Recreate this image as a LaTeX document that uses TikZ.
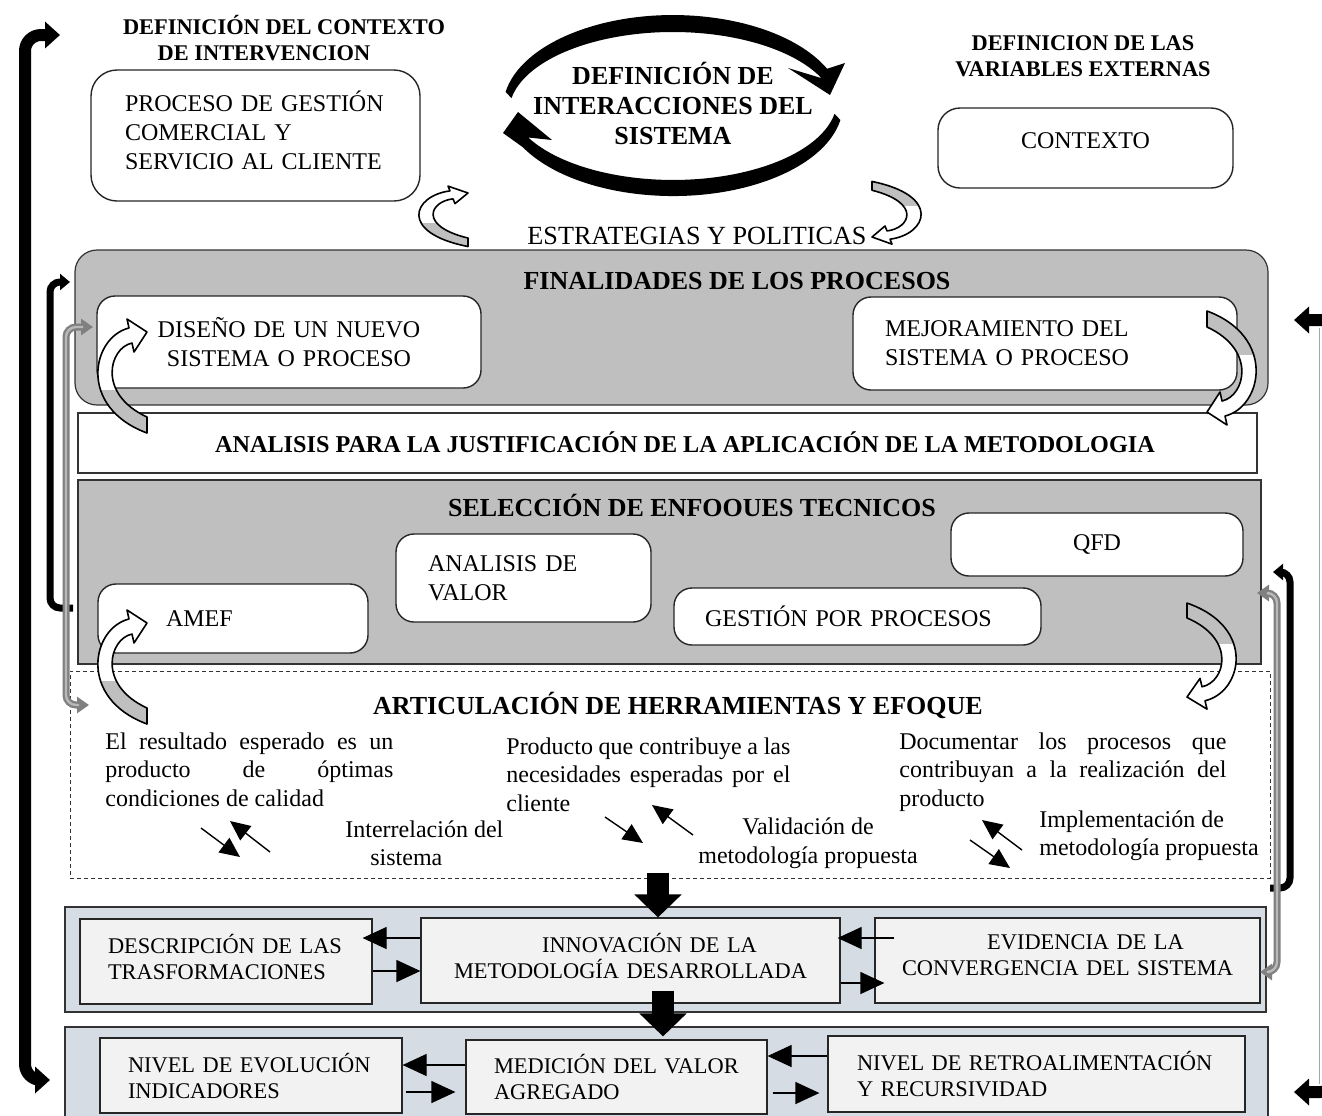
\documentclass[tikz,border=0pt]{standalone}
\usepackage{fontspec}
\setmainfont{Liberation Serif}
\usetikzlibrary{arrows.meta,calc}

\definecolor{panelgray}{RGB}{191,191,191}
\definecolor{bluegray}{RGB}{214,220,228}
\definecolor{lightbox}{RGB}{242,242,242}
\definecolor{linkgray}{RGB}{128,128,128}
\definecolor{linkgraylt}{RGB}{185,185,185}

% font sizes
\newcommand\ftxt{\fontsize{12}{14.5}\selectfont}
\newcommand\fpara{\fontsize{12}{14.25}\selectfont}
\newcommand\fsm{\fontsize{11.2}{13}\selectfont}
\newcommand\fhead{\fontsize{11.2}{13}\selectfont\bfseries}
\newcommand\ftitle{\fontsize{13}{15}\selectfont\bfseries}
\newcommand\fanal{\fontsize{12.1}{14}\selectfont\bfseries}

% box from pixel corners: name, style, x1, y1, x2, y2, text width (px), text
\newcommand\pxbox[8]{%
  \pgfmathsetmacro\pxw{(#5-#3)/2}%
  \pgfmathsetmacro\pxh{(#6-#4)/2}%
  \pgfmathsetmacro\pxt{#7/2}%
  \pgfmathsetmacro\pxcx{(#3+#5)/2}%
  \pgfmathsetmacro\pxcy{(#4+#6)/2}%
  \node[#2, minimum width=\pxw pt, minimum height=\pxh pt, text width=\pxt pt, inner xsep=0pt] (#1) at (\pxcx,\pxcy) {#8};}

\tikzset{
  rbox/.style={draw=black!85, line width=0.7pt, fill=white, rounded corners=9pt, align=left},
  panel/.style={draw=black!80, line width=0.6pt},
  lowbox/.style={draw=black!85, line width=0.6pt, fill=lightbox, align=left, font=\fsm},
  smallarr/.style={line width=0.6pt, -{Triangle[length=12pt,width=11pt]}},
  diagarr/.style={line width=0.7pt, -{Triangle[length=10pt,width=9pt]}},
  bigdown/.style={line width=11pt, -{Triangle[length=11.5pt,width=23pt]}},
  bigbr/.style={line width=6pt, rounded corners=8pt, {Triangle[length=7.5pt,width=13pt]}-{Triangle[length=7.5pt,width=13pt]}},
  midbr/.style={line width=3.5pt, rounded corners=5pt, -{Triangle[length=5pt,width=8pt]}},
  grayout/.style={draw=linkgray, line width=3.5pt, rounded corners=5pt, {Triangle[length=6pt,width=8pt]}-{Triangle[length=6pt,width=8pt]}},
  grayin/.style={draw=linkgraylt, line width=1.2pt, rounded corners=5pt, shorten <=5pt, shorten >=5pt},
  % curved ribbon arrow: tip at the origin, tail straight below, bulging to the left
  curvy/.pic={
    \path[fill=white] (0,0) -- (-20,-13) -- (-18,-4) .. controls (-55,5) and (-70,75) .. (0,101)
      -- (0,85) .. controls (-50,62) and (-38,16) .. (-15,11) -- (-13,20) -- cycle;
    \begin{scope}
      \clip (-90,58) rectangle (20,120);
      \path[fill=panelgray] (0,0) -- (-20,-13) -- (-18,-4) .. controls (-55,5) and (-70,75) .. (0,101)
        -- (0,85) .. controls (-50,62) and (-38,16) .. (-15,11) -- (-13,20) -- cycle;
    \end{scope}
    \draw[line width=0.8pt, line join=round] (0,0) -- (-20,-13) -- (-18,-4) .. controls (-55,5) and (-70,75) .. (0,101)
      -- (0,85) .. controls (-50,62) and (-38,16) .. (-15,11) -- (-13,20) -- cycle;
  }
}

\begin{document}
\begin{tikzpicture}[x=0.5pt, y=-0.5pt]
\useasboundingbox (0,0) rectangle (1322,1115);
\clip (0,0) rectangle (1322,1115);
\fill[white] (0,0) rectangle (1322,1115);

% ---------- top row ----------
\node[font=\fhead, align=center] (hdrL) at (284,38) {DEFINICIÓN DEL CONTEXTO\\DE INTERVENCION\hbox to 20pt{}};
\node[font=\fhead, align=center] (hdrR) at (1083,56) {DEFINICION DE LAS\\VARIABLES EXTERNAS};

\pxbox{proc}{rbox, rounded corners=13pt, font=\ftxt}{91}{70}{420}{201}{261}{PROCESO DE GESTIÓN\\COMERCIAL Y\\SERVICIO AL CLIENTE\par\kern5pt}
\pxbox{ctx}{rbox, rounded corners=11pt, font=\ftxt, align=center}{938}{108}{1233}{188}{280}{CONTEXTO\par\kern7pt}

% circular interaction arrows
\fill (505.6,91.9) arc[start angle=190, end angle=335, x radius=170, y radius=93]
  -- (845,63) -- (830,95) -- (788,68) -- (821.6,78.2)
  arc[start angle=335, end angle=190, x radius=164, y radius=80] -- cycle;
\fill (840.4,120) arc[start angle=10, end angle=152, x radius=170, y radius=92]
  -- (503,133) -- (518,112) -- (552,140) -- (528.2,137.5)
  arc[start angle=152, end angle=10, x radius=164, y radius=80] -- cycle;
\node[font=\ftitle, align=center] (inter) at (673,103) {DEFINICIÓN DE\\INTERACCIONES DEL\\SISTEMA};

\node[font=\fontsize{13.1}{15}\selectfont] (strat) at (697,236) {ESTRATEGIAS Y POLITICAS};

% ---------- finalidades ----------
\pxbox{fin}{panel, fill=panelgray, rounded corners=11pt}{75}{250}{1268}{405}{100}{}
\node[font=\ftitle] (finT) at (737,281) {FINALIDADES DE LOS PROCESOS};
\pxbox{dis}{rbox, font=\ftxt, align=center}{97}{296}{481}{388}{300}{DISEÑO DE UN NUEVO\\SISTEMA O PROCESO}
\pxbox{mej}{rbox, font=\ftxt}{853}{297}{1237}{390}{320}{MEJORAMIENTO DEL\\SISTEMA O PROCESO}

% ---------- analisis ----------
\pxbox{anal}{panel, fill=white}{78}{413}{1257}{473}{100}{}
\node[font=\fanal] (analT) at (685,442) {ANALISIS PARA LA JUSTIFICACIÓN DE LA APLICACIÓN DE LA METODOLOGIA};

% ---------- seleccion de enfoques ----------
\pxbox{sel}{panel, fill=panelgray}{78}{480}{1261}{664}{100}{}
\node[font=\ftitle] (selT) at (692,505) {SELECCIÓN DE ENFOOUES TECNICOS};
\pxbox{amef}{rbox, font=\ftxt}{98}{584}{368}{653}{134}{AMEF}
\pxbox{aval}{rbox, font=\ftxt}{396}{534}{651}{622}{191}{\makebox[95.5pt][s]{ANALISIS DE}\\VALOR}
\pxbox{gest}{rbox, font=\ftxt}{674}{588}{1041}{645}{305}{GESTIÓN POR PROCESOS}
\pxbox{qfd}{rbox, font=\ftxt, align=center}{951}{513}{1243}{576}{200}{QFD}

% ---------- articulacion ----------
\pxbox{art}{draw=black!80, line width=0.5pt, dash pattern=on 2pt off 1.5pt}{70}{671}{1270}{878}{100}{}
\node[font=\ftitle] (artT) at (678,705) {ARTICULACIÓN DE HERRAMIENTAS Y EFOQUE};
\node[font=\fpara, anchor=north west, inner sep=0pt, align=left] (t1) at (105,732)
  {\makebox[144pt][s]{El resultado esperado es un}\\\makebox[144pt][s]{producto de óptimas}\\condiciones de calidad};
\node[font=\fpara, anchor=north west, inner sep=0pt, align=left] (t2) at (506,737)
  {\makebox[142pt][s]{Producto que contribuye a las}\\\makebox[142pt][s]{necesidades esperadas por el}\\cliente};
\node[font=\fpara, anchor=north west, inner sep=0pt, align=left] (t3) at (899,732)
  {\makebox[163.5pt][s]{Documentar los procesos que}\\\makebox[163.5pt][s]{contribuyan a la realización del}\\producto};
\node[font=\fpara, anchor=north west, inner sep=0pt, align=left] (t4) at (345,820)
  {Interrelación del\\\hspace*{12.5pt}sistema};
\node[font=\fpara, align=center, inner sep=0pt] (t5) at (808,843)
  {Validación de\\metodología propuesta};
\node[font=\fontsize{12}{14}\selectfont, anchor=north west, inner sep=0pt, align=left] (t6) at (1039,810)
  {Implementación de\\metodología propuesta};

% small paired arrows
\coordinate (pa1) at (201,828); \coordinate (pa2) at (240,857);
\coordinate (pb1) at (270,852); \coordinate (pb2) at (230,821);
\coordinate (pc1) at (605,817); \coordinate (pc2) at (643,843);
\coordinate (pd1) at (693,835); \coordinate (pd2) at (652,805);
\coordinate (pe1) at (1022,850); \coordinate (pe2) at (982,820);
\coordinate (pf1) at (970,840); \coordinate (pf2) at (1010,868);
\draw[diagarr] (pa1) -- (pa2);
\draw[diagarr] (pb1) -- (pb2);
\draw[diagarr] (pc1) -- (pc2);
\draw[diagarr] (pd1) -- (pd2);
\draw[diagarr] (pe1) -- (pe2);
\draw[diagarr] (pf1) -- (pf2);

% ---------- lower panels ----------
\pxbox{bp1}{panel, fill=bluegray}{65}{907}{1266}{1012}{100}{}
\pxbox{desc}{lowbox}{80}{919}{372}{1004}{236}{DESCRIPCIÓN DE LAS\\TRASFORMACIONES\par\kern5pt}
\pxbox{innov}{lowbox, align=center}{421}{918}{840}{1003}{400}{\hspace*{19pt}INNOVACIÓN DE LA\\METODOLOGÍA DESARROLLADA\par\kern5pt}
\pxbox{evid}{lowbox, align=center}{875}{918}{1260}{1003}{370}{\hspace*{18pt}EVIDENCIA DE LA\\CONVERGENCIA DEL SISTEMA\par\kern5pt}

\pxbox{bp2}{panel, fill=bluegray}{65}{1027}{1268}{1140}{100}{}
\pxbox{nivE}{lowbox}{100}{1038}{402}{1113}{246}{NIVEL DE EVOLUCIÓN\\INDICADORES}
\pxbox{med}{lowbox}{466}{1040}{767}{1114}{245}{MEDICIÓN DEL VALOR\\AGREGADO}
\pxbox{ret}{lowbox}{828}{1036}{1245}{1112}{359}{NIVEL DE RETROALIMENTACIÓN\\Y RECURSIVIDAD}

\draw[smallarr] ($(innov.west)+(0,-22.5)$) -- ($(desc.east)+(-10,-23.5)$);
\draw[smallarr] ($(desc.east)+(0,9.5)$) -- ($(innov.west)+(0,10.5)$);
\draw[smallarr] ($(evid.west)+(20,-22.5)$) -- ($(innov.east)+(-3,-22.5)$);
\draw[smallarr] ($(innov.east)+(0,22.5)$) -- ($(evid.west)+(10,22.5)$);
\draw[smallarr] ($(med.west)+(0,-12)$) -- ($(nivE.east)+(0,-10.5)$);
\draw[smallarr] ($(nivE.east)+(3,16.5)$) -- ($(med.west)+(-10,15)$);
\draw[smallarr] ($(ret.west)+(0,-18)$) -- ($(med.east)+(0,-21)$);
\draw[smallarr] ($(med.east)+(5,16)$) -- ($(ret.west)+(-8,19)$);

% big downward arrows
\draw[bigdown] ($(art.south)+(-12,-6)$) -- ($(innov.north)+(27.5,0)$);
\draw[bigdown] ($(innov.south)+(32.5,-13)$) -- ($(med.north)+(46.5,-3)$);

% ---------- curved ribbon arrows ----------
\pic[yscale=0.53] at (468,193) {curvy};
\pic[rotate=180, yscale=0.55] at (872,237) {curvy};
\pic at (147,332) {curvy};
\pic at (147,623) {curvy};
\pic[rotate=180] at (1207,412) {curvy};
\pic[rotate=180, yscale=0.93] at (1187,697) {curvy};

% ---------- feedback brackets ----------
\coordinate (blT) at (60,35);  \coordinate (blB) at (50,1080);
\draw[bigbr] (blT) -- (25,35) -- (25,1080) -- (blB);
\coordinate (brT) at (1294,320); \coordinate (brB) at (1294,1092);
\draw[bigbr] (brT) -- (1336,320) -- (1336,1092) -- (brB);
\draw[black!35, line width=0.5pt] (1319,328) -- (1319,1084);

\coordinate (ltS) at (73,608); \coordinate (ltT) at (70,282);
\draw[midbr] (ltS) -- (50,608) -- (50,282) -- (ltT);
\coordinate (rtS) at (1270,888); \coordinate (rtT) at (1273,572);
\draw[midbr] (rtS) -- (1290,888) -- (1290,572) -- (rtT);

\coordinate (lgT) at (93,327); \coordinate (lgB) at (89,705);
\draw[grayout] (lgT) -- (66,327) -- (66,705) -- (lgB);
\draw[grayin] (lgT) -- (66,327) -- (66,705) -- (lgB);
\coordinate (rgT) at (1257,593); \coordinate (rgB) at (1260,972);
\draw[grayout] (rgT) -- (1277,593) -- (1277,972) -- (rgB);
\draw[grayin] (rgT) -- (1277,593) -- (1277,972) -- (rgB);
\end{tikzpicture}
\end{document}
